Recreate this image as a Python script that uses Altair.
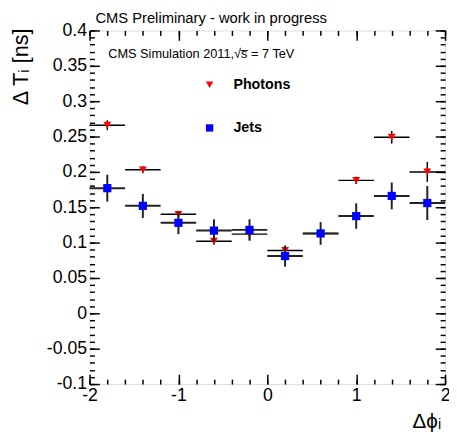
import altair as alt
import pandas as pd

# ---- data ----
x_centers = [-1.8, -1.4, -1.0, -0.6, -0.2, 0.2, 0.6, 1.0, 1.4, 1.8]
x_halfwidth = [0.2, 0.2, 0.2, 0.2, 0.2, 0.2, 0.2, 0.2, 0.2, 0.2]
photons = [0.266, 0.203, 0.140, 0.102, 0.112, 0.089, 0.113, 0.188, 0.249, 0.200]
photons_err = [0.007, 0.005, 0.005, 0.005, 0.009, 0.006, 0.005, 0.005, 0.009, 0.014]
jets = [0.177, 0.152, 0.128, 0.117, 0.118, 0.081, 0.113, 0.1375, 0.166, 0.156]
jets_err = [0.019, 0.017, 0.016, 0.016, 0.015, 0.015, 0.016, 0.018, 0.019, 0.024]
series_names = ["Photons", "Jets"]

# tick positions
y_major = [-0.1, -0.05, 0.0, 0.05, 0.1, 0.15, 0.2, 0.25, 0.3, 0.35, 0.4]
y_minor = [round(-0.1 + 0.01 * i, 2) for i in range(51)]
x_major = [-2, -1, 0, 1, 2]
x_minor = [round(-2 + 0.2 * i, 1) for i in range(21)]

FONT = "Liberation Sans"


def frame(name, vals, errs):
    return pd.DataFrame({
        "series": name,
        "x": x_centers,
        "xlo": [c - h for c, h in zip(x_centers, x_halfwidth)],
        "xhi": [c + h for c, h in zip(x_centers, x_halfwidth)],
        "y": vals,
        "ylo": [v - e for v, e in zip(vals, errs)],
        "yhi": [v + e for v, e in zip(vals, errs)],
    })


df_ph = frame("Photons", photons, photons_err)
df_jt = frame("Jets", jets, jets_err)

xscale = alt.Scale(domain=[-2, 2], nice=False, zero=False)
yscale = alt.Scale(domain=[-0.1, 0.4], nice=False, zero=False)

common = dict(domain=False, grid=False, title=None, tickColor="black", tickWidth=1.5)


def ax(orient, vals, size, labels=False, **kw):
    return alt.Axis(orient=orient, values=vals, offset=-size, tickSize=size,
                    labels=labels, **common, **kw)


lab_kw = dict(labelFont=FONT, labelFontSize=18, labelColor="black",
              labelFlush=False, labelOverlap=False, labelBound=False)

x_bottom_major = ax("bottom", x_major, 10, labels=True, labelPadding=3,
                    labelExpr="replace(format(datum.value, 'd'), '\u2212', '-')", **lab_kw)
x_bottom_minor = ax("bottom", x_minor, 5)
x_top_major = ax("top", x_major, 10)
x_top_minor = ax("top", x_minor, 5)

y_left_major = ax("left", y_major, 10, labels=True, labelPadding=3,
                  labelExpr="replace(format(datum.value, '.2~f'), '\u2212', '-')", **lab_kw)
y_left_minor = ax("left", y_minor, 5)
y_right_major = ax("right", y_major, 10)
y_right_minor = ax("right", y_minor, 5)

legend = alt.Legend(title=None, orient="none", legendX=115, legendY=48,
                    labelFont=FONT, labelFontSize=14.5, labelFontWeight="bold",
                    labelColor="black", symbolSize=56, rowPadding=29,
                    labelOffset=17, padding=0, symbolStrokeWidth=0)
color = alt.Color("series:N", scale=alt.Scale(domain=series_names, range=["#ff0000", "#0000ff"]),
                  legend=legend)
shape = alt.Shape("series:N", scale=alt.Scale(domain=series_names, range=["triangle-down", "square"]),
                  legend=legend)

ph_xerr = alt.Chart(df_ph).mark_rule(color="black", strokeWidth=1.5).encode(
    x=alt.X("xlo:Q", scale=xscale, axis=x_bottom_major), x2="xhi:Q",
    y=alt.Y("y:Q", scale=yscale, axis=y_left_major))
ph_yerr = alt.Chart(df_ph).mark_rule(color="black", strokeWidth=1.5).encode(
    x=alt.X("x:Q", scale=xscale, axis=x_bottom_minor),
    y=alt.Y("ylo:Q", scale=yscale, axis=y_left_minor), y2="yhi:Q")
ph_pts = alt.Chart(df_ph).mark_point(filled=True, size=64, opacity=1).encode(
    x=alt.X("x:Q", scale=xscale, axis=None),
    y=alt.Y("y:Q", scale=yscale, axis=None), color=color, shape=shape)

jt_xerr = alt.Chart(df_jt).mark_rule(color="#222222", strokeWidth=2).encode(
    x=alt.X("xlo:Q", scale=xscale, axis=x_top_major), x2="xhi:Q",
    y=alt.Y("y:Q", scale=yscale, axis=y_right_major))
jt_yerr = alt.Chart(df_jt).mark_rule(color="#222222", strokeWidth=2).encode(
    x=alt.X("x:Q", scale=xscale, axis=x_top_minor),
    y=alt.Y("ylo:Q", scale=yscale, axis=y_right_minor), y2="yhi:Q")
jt_pts = alt.Chart(df_jt).mark_point(filled=True, size=70, opacity=1).encode(
    x=alt.X("x:Q", scale=xscale, axis=None),
    y=alt.Y("y:Q", scale=yscale, axis=None), color=color, shape=shape)

# texts
title_txt = alt.Chart(pd.DataFrame({"t": ["CMS Preliminary - work in progress"]})).mark_text(
    font=FONT, fontSize=15, align="left", baseline="alphabetic", color="black").encode(
    text="t:N", x=alt.value(6), y=alt.value(-7.5))
sim_txt = alt.Chart(pd.DataFrame({"t": ["CMS Simulation 2011,\u221as\u0305 = 7 TeV"]})).mark_text(
    font=FONT, fontSize=13, align="left", baseline="alphabetic", color="black").encode(
    text="t:N", x=alt.value(19), y=alt.value(28.5))
ytitle = alt.Chart(pd.DataFrame({"t": ["\u0394 T\u1d62 [ns]"]})).mark_text(
    font=FONT, fontSize=22, align="right", baseline="middle", angle=270, color="black").encode(
    text="t:N", x=alt.value(-70), y=alt.value(-2))
xtitle = alt.Chart(pd.DataFrame({"t": ["\u0394\u03d5\u1d62"]})).mark_text(
    font=FONT, fontSize=21, align="right", baseline="alphabetic", color="black").encode(
    text="t:N", x=alt.value(358), y=alt.value(405))

chart = alt.layer(
    ph_xerr, ph_yerr, ph_pts, jt_xerr, jt_yerr, jt_pts, title_txt, sim_txt, ytitle, xtitle
).resolve_axis(x="independent", y="independent").resolve_scale(x="shared", y="shared").properties(
    width=362, height=360,
    autosize=alt.AutoSizeParams(type="none"),
    padding={"left": 83, "top": 19, "right": 4, "bottom": 48},
).configure_view(stroke="black", strokeWidth=2).configure(background="white")

chart.save("out.html", embed_options={"renderer": "svg", "actions": False})
